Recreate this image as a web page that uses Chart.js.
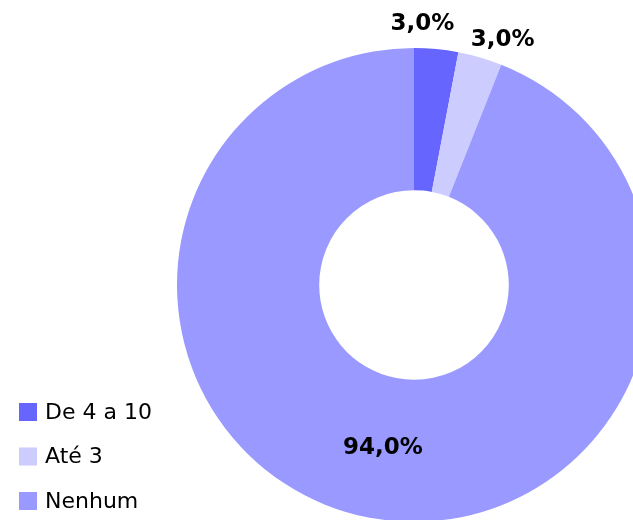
<!DOCTYPE html>
<html>
<head>
<meta charset="utf-8">
<script src="https://cdn.jsdelivr.net/npm/chart.js@4/dist/chart.umd.min.js"></script>
<style>
  html, body { margin: 0; padding: 0; background: #fff; overflow: hidden; }
  #wrap { width: 633px; height: 520px; overflow: hidden; position: relative; }
  canvas { position: absolute; left: 0; top: 0; }
</style>
</head>
<body>
<div id="wrap"><canvas id="chart" width="700" height="570"></canvas></div>
<script>
const categories = ['De 4 a 10', 'Até 3', 'Nenhum'];
const shares = [3.0, 3.0, 94.0];
const sliceColors = ['#6666FF', '#CCCCFF', '#9999FF'];

// Value labels: small slices sit outside the ring, the big one inside it.
const valueLabels = {
  id: 'valueLabels',
  afterDatasetsDraw(chart) {
    const ctx = chart.ctx;
    const arcs = chart.getDatasetMeta(0).data;
    const spread = [0.17, 0.84, 0.5];
    ctx.save();
    ctx.fillStyle = '#000';
    ctx.font = 'bold 23px "DejaVu Sans"';
    ctx.textAlign = 'center';
    ctx.textBaseline = 'middle';
    arcs.forEach((arc, i) => {
      const p = arc.getProps(['x', 'y', 'startAngle', 'endAngle', 'innerRadius', 'outerRadius'], true);
      const ang = p.startAngle + (p.endAngle - p.startAngle) * spread[i];
      const r = shares[i] < 10 ? p.outerRadius + 24 : (p.innerRadius + p.outerRadius) / 2 + 0;
      const text = shares[i].toFixed(1).replace('.', ',') + '%';
      ctx.fillText(text, p.x + Math.cos(ang) * r, p.y + Math.sin(ang) * r);
    });
    ctx.restore();
  }
};

// Legend in the lower left corner.
const cornerLegend = {
  id: 'cornerLegend',
  afterDraw(chart) {
    const ctx = chart.ctx;
    ctx.save();
    ctx.font = '22px "DejaVu Sans"';
    ctx.textBaseline = 'middle';
    categories.forEach((name, i) => {
      const y = 412 + i * 44.5;
      ctx.fillStyle = sliceColors[i];
      ctx.fillRect(19, y - 9, 18, 18);
      ctx.fillStyle = '#000';
      ctx.fillText(name, 45, y + 1);
    });
    ctx.restore();
  }
};

new Chart(document.getElementById('chart'), {
  type: 'doughnut',
  data: {
    labels: categories,
    datasets: [{
      data: shares,
      backgroundColor: sliceColors,
      borderWidth: 0
    }]
  },
  options: {
    responsive: false,
    animation: false,
    cutout: '40%',
    layout: { padding: { left: 177, top: 48, right: 49, bottom: 48 } },
    plugins: {
      legend: { display: false },
      tooltip: { enabled: false }
    }
  },
  plugins: [valueLabels, cornerLegend]
});
</script>
</body>
</html>
